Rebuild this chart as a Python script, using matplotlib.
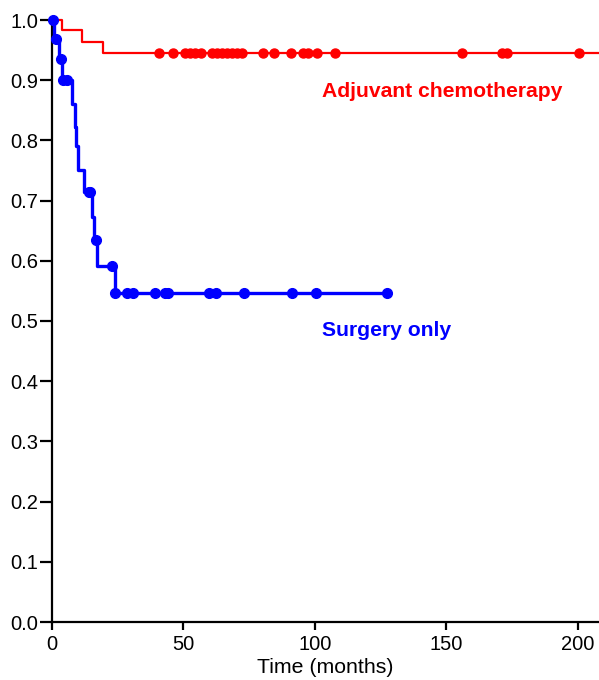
import matplotlib
matplotlib.use('Agg')
import matplotlib.pyplot as plt

plt.rcParams['font.family'] = ['Liberation Sans', 'DejaVu Sans']

# surgery only - step curve
surg_t = [0, 0.6, 2.8, 3.8, 7.5, 8.7, 9.3, 10.0, 12.0, 15.1, 16.0, 17.0, 24.0, 127.5]
surg_s = [1.0, 0.968, 0.935, 0.900, 0.861, 0.823, 0.790, 0.751, 0.715, 0.673, 0.635, 0.592, 0.546, 0.546]
# censored marks
surg_ct = [0.3, 1.5, 3.5, 4.3, 5.8, 14.0, 14.6, 16.7, 22.7,
           24.0, 28.4, 30.9, 39.2, 43.0, 44.2, 59.8, 62.4, 73.0, 91.1, 100.3, 127.5]
surg_cs = [1.0, 0.968, 0.935, 0.900, 0.900, 0.715, 0.715, 0.635, 0.592,
           0.546, 0.546, 0.546, 0.546, 0.546, 0.546, 0.546, 0.546, 0.546, 0.546, 0.546, 0.546]

# adjuvant chemotherapy
chemo_t = [0, 3.7, 11.3, 19.4, 208]
chemo_s = [1.0, 0.983, 0.964, 0.945, 0.945]
chemo_ct = [40.8, 45.9, 50.6, 52.5, 54.4, 56.5, 60.7, 62.6, 64.5, 66.4, 68.3, 70.2, 72.1,
            80.3, 84.4, 90.7, 95.5, 97.4, 100.6, 107.6, 155.9, 171.0, 172.9, 200.3]
chemo_cs = [0.945] * len(chemo_ct)

red = '#ff0000'
blue = '#0000ff'

fig = plt.figure(figsize=(5.99, 6.8), dpi=100)
ax = fig.add_axes([52/599, 58/680, 1 - 52/599, 602/680])

ax.step(chemo_t, chemo_s, where='post', color=red, lw=1.6, clip_on=False, zorder=3)
ax.plot(chemo_ct, chemo_cs, 'o', color=red, ms=6.5, clip_on=False, zorder=4)
ax.step(surg_t, surg_s, where='post', color=blue, lw=2.4, clip_on=False, zorder=5)
ax.plot(surg_ct, surg_cs, 'o', color=blue, ms=7, clip_on=False, zorder=6)

ax.text(102.5, 0.8726, 'Adjuvant chemotherapy', color=red, fontsize=15.2,
        fontweight='bold', va='baseline', ha='left')
ax.text(102.5, 0.475, 'Surgery only', color=blue, fontsize=15.2,
        fontweight='bold', va='baseline', ha='left')

ax.set_xlim(0, 208)
ax.set_ylim(0, 1.0)
ax.set_xticks([0, 50, 100, 150, 200])
ax.set_yticks([i / 10 for i in range(11)])
ax.set_yticklabels(['%.1f' % (i / 10) for i in range(11)])
ax.tick_params(labelsize=14.5, width=1.6)
ax.tick_params(axis='y', length=9, pad=1)
ax.tick_params(axis='x', length=6, pad=3.2)
for s in ['top', 'right']:
    ax.spines[s].set_visible(False)
for s in ['left', 'bottom']:
    ax.spines[s].set_linewidth(1.6)
ax.set_xlabel('Time (months)', fontsize=15.3, labelpad=3.2)

fig.savefig('out.png', dpi=100)
